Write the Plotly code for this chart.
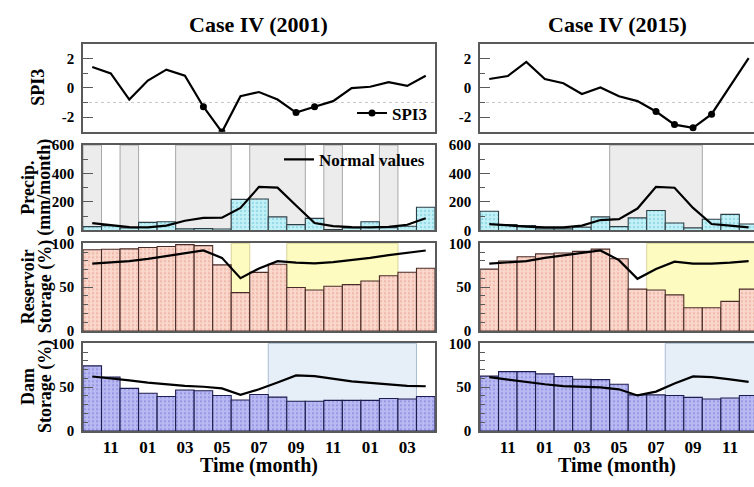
import plotly.graph_objects as go
from plotly.subplots import make_subplots

# ---------------------------------------------------------------- data
# Months (Oct -> Apr of the following year for 2001, Oct -> Dec for 2015)
months_2001 = ["10", "11", "12", "01", "02", "03", "04", "05", "06", "07",
               "08", "09", "10", "11", "12", "01", "02", "03", "04"]
months_2015 = ["10", "11", "12", "01", "02", "03", "04", "05", "06", "07",
               "08", "09", "10", "11", "12"]

spi_2001 = [1.42, 0.98, -0.80, 0.49, 1.24, 0.82, -1.29, -3.02, -0.58, -0.29,
            -0.80, -1.69, -1.29, -0.91, -0.02, 0.07, 0.38, 0.13, 0.82]
spi_2015 = [0.60, 0.80, 1.76, 0.60, 0.31, -0.42, 0.02, -0.58, -0.91, -1.62,
            -2.51, -2.73, -1.80, 0.10, 2.02]

precip_2001 = [27, 34, 18, 57, 61, 11, 13, 10, 218, 221,
               95, 41, 85, 7, 18, 61, 20, 29, 163]
precip_normal_2001 = [52, 39, 23, 22, 34, 68, 88, 90, 158, 306,
                      301, 175, 52, 30, 23, 22, 25, 40, 86]
precip_2015 = [135, 41, 34, 11, 11, 23, 95, 27, 88, 140, 52, 18, 79, 113, 45]
precip_normal_2015 = [45, 34, 27, 22, 22, 34, 73, 79, 154, 306, 300, 158, 45, 34, 22]

reservoir_2001 = [92.6, 93.3, 93.7, 95.2, 96.3, 98.5, 97.4, 75.4, 43.8, 66.9,
                  76.1, 49.6, 46.7, 51.1, 52.9, 57.0, 63.0, 67.0, 71.6]
reservoir_normal_2001 = [76.8, 77.9, 79.7, 82.3, 85.3, 88.2, 91.8, 83.4, 60.3, 71.3,
                         79.7, 77.9, 77.2, 78.6, 80.8, 83.4, 86.5, 89.0, 91.8]
reservoir_2015 = [70.6, 79.8, 84.6, 87.9, 89.0, 90.8, 93.4, 82.4, 47.8, 46.7,
                  41.2, 26.5, 26.5, 33.8, 47.8]
reservoir_normal_2015 = [76.8, 77.9, 79.7, 83.4, 86.0, 88.9, 91.8, 80.8, 59.5, 70.6,
                         79.0, 76.8, 76.8, 77.9, 79.7]

dam_2001 = [74.3, 61.4, 48.6, 43.0, 39.3, 46.7, 45.9, 40.4, 35.3, 41.5,
            38.6, 33.8, 33.8, 34.9, 34.9, 34.9, 37.0, 36.5, 39.3]
dam_normal_2001 = [62.1, 60.3, 57.7, 55.2, 53.0, 51.5, 50.4, 48.5, 41.2, 47.5,
                   55.2, 63.3, 62.5, 59.6, 56.6, 54.8, 53.0, 51.5, 51.0]
dam_2015 = [62.5, 67.7, 67.7, 65.1, 62.2, 58.9, 58.5, 53.3, 41.2, 41.2,
            40.5, 38.3, 36.4, 37.5, 40.5]
dam_normal_2015 = [61.4, 58.5, 55.9, 53.3, 51.1, 50.4, 49.7, 47.5, 40.5, 44.9,
                   54.1, 62.2, 61.4, 58.9, 55.9]

# Highlighted month spans (first index, last index)
dry_spans_2001 = [(0, 0), (2, 2), (5, 7), (9, 11), (13, 13), (16, 16)]
dry_spans_2015 = [(7, 11)]
res_spans_2001 = [(8, 8), (11, 16)]
res_spans_2015 = [(9, 14)]
dam_spans_2001 = [(10, 17)]
dam_spans_2015 = [(10, 14)]

SPI_THRESHOLD = -1.0

# ---------------------------------------------------------------- style
W, H = 754, 487
FONT = "Liberation Serif"
AXIS_COL = "#5a5a5a"

def px_x(p):
    return p / W

def px_y(p):
    return 1 - p / H

col_domains = [(px_x(83), px_x(435)), (px_x(480), 1.0)]
row_domains = [(px_y(128), px_y(37)), (px_y(230), px_y(141.7)),
               (px_y(334), px_y(243.3)), (px_y(437.3), px_y(346.7))]

PRECIP_STYLE = dict(fill="#c2f1f8", dots="#6cc3d6", edge="#2f3f46")
RES_STYLE = dict(fill="#fad8cc", dots="#e69c8a", edge="#4b2d28")
DAM_STYLE = dict(fill="#babaf3", dots="#7878d6", edge="#1d1d4f")

fig = make_subplots(rows=4, cols=2, horizontal_spacing=0.02, vertical_spacing=0.02)


def bar_trace(x, y, style):
    return go.Bar(
        x=x, y=y, width=1.0, showlegend=False, hoverinfo="skip",
        marker=dict(
            color=style["fill"],
            line=dict(color=style["edge"], width=1.1),
            pattern=dict(shape=".", fgcolor=style["dots"], bgcolor=style["fill"],
                         size=4, solidity=0.3),
        ),
    )


def normal_trace(x, y, show):
    return go.Scatter(x=x, y=y, mode="lines", line=dict(color="black", width=2.2),
                      name="Normal values", showlegend=show, legend="legend2",
                      hoverinfo="skip")


def add_spans(spans, row, col, fill, edge):
    for a, b in spans:
        fig.add_vrect(x0=a - 0.5, x1=b + 0.5, row=row, col=col, layer="below",
                      fillcolor=fill, opacity=1, line=dict(color=edge, width=1))


panels = [
    dict(col=1, months=months_2001, spi=spi_2001, precip=precip_2001,
         pnorm=precip_normal_2001, res=reservoir_2001, rnorm=reservoir_normal_2001,
         dam=dam_2001, dnorm=dam_normal_2001, dry=dry_spans_2001,
         rspan=res_spans_2001, dspan=dam_spans_2001, n_visible=19.0, first=True),
    dict(col=2, months=months_2015, spi=spi_2015, precip=precip_2015,
         pnorm=precip_normal_2015, res=reservoir_2015, rnorm=reservoir_normal_2015,
         dam=dam_2015, dnorm=dam_normal_2015, dry=dry_spans_2015,
         rspan=res_spans_2015, dspan=dam_spans_2015, n_visible=14.79, first=False),
]

for p in panels:
    c = p["col"]
    x = list(range(len(p["months"])))

    # SPI3 line, drought months (SPI < -1) marked with dots
    fig.add_trace(go.Scatter(x=x, y=p["spi"], mode="lines",
                             line=dict(color="black", width=2.2),
                             showlegend=False, hoverinfo="skip"), row=1, col=c)
    drought = [v if v < SPI_THRESHOLD else None for v in p["spi"]]
    fig.add_trace(go.Scatter(x=x, y=drought, mode="markers",
                             marker=dict(color="black", size=7),
                             showlegend=False, hoverinfo="skip"), row=1, col=c)
    if p["first"]:
        # legend entry: line with a drought dot
        fig.add_trace(go.Scatter(x=[None], y=[None], mode="lines+markers",
                                 line=dict(color="black", width=2),
                                 marker=dict(color="black", size=7),
                                 name="SPI3", legend="legend"), row=1, col=c)
    fig.add_hline(y=SPI_THRESHOLD, row=1, col=c, layer="below",
                  line=dict(color="#c8c8c8", width=1, dash="dot"))

    # precipitation
    fig.add_trace(bar_trace(x, p["precip"], PRECIP_STYLE), row=2, col=c)
    fig.add_trace(normal_trace(x, p["pnorm"], p["first"]), row=2, col=c)
    add_spans(p["dry"], 2, c, "#ececec", "#a8a8a8")

    # reservoir storage
    fig.add_trace(bar_trace(x, p["res"], RES_STYLE), row=3, col=c)
    fig.add_trace(normal_trace(x, p["rnorm"], False), row=3, col=c)
    add_spans(p["rspan"], 3, c, "#fdfbc0", "#d9d49a")

    # dam storage
    fig.add_trace(bar_trace(x, p["dam"], DAM_STYLE), row=4, col=c)
    fig.add_trace(normal_trace(x, p["dnorm"], False), row=4, col=c)
    add_spans(p["dspan"], 4, c, "#e6eef8", "#a9bdd2")

    xr = [-0.5, -0.5 + p["n_visible"]]
    tickvals = x[1::2]
    ticktext = p["months"][1::2]
    for r in range(1, 5):
        fig.update_xaxes(row=r, col=c, range=xr, domain=col_domains[c - 1],
                         showgrid=False, zeroline=False, showline=True,
                         linecolor=AXIS_COL, linewidth=1.5, mirror=True,
                         ticks="", ticklen=0, ticklabelstandoff=0,
                         showticklabels=(r == 4),
                         tickvals=tickvals, ticktext=ticktext,
                         tickfont=dict(family=FONT, size=17, color="black", weight="bold"))

    yspecs = [
        dict(range=[-3, 3], tickvals=[-2, 0, 2], minor=1),
        dict(range=[0, 600], tickvals=[0, 200, 400, 600], minor=100),
        dict(range=[0, 100], tickvals=[0, 50, 100], minor=10),
        dict(range=[0, 100], tickvals=[0, 50, 100], minor=10),
    ]
    for r, s in enumerate(yspecs, start=1):
        fig.update_yaxes(row=r, col=c, range=s["range"], domain=row_domains[r - 1],
                         showgrid=False, zeroline=False, showline=True,
                         linecolor=AXIS_COL, linewidth=1.5, mirror=(c == 1),
                         ticks="inside", ticklen=10, tickwidth=1.2, tickcolor=AXIS_COL,
                         tickvals=s["tickvals"],
                         ticktext=[str(v) for v in s["tickvals"]],
                         ticklabelstandoff=4,
                         minor=dict(dtick=s["minor"], tick0=0, ticks="inside", ticklen=5,
                                    tickwidth=1, tickcolor=AXIS_COL),
                         tickfont=dict(family=FONT, size=15, color="black", weight="bold"))

# ---------------------------------------------------------------- text
title_font = dict(family=FONT, size=22, color="black", weight="bold")
label_font = dict(family=FONT, size=18, color="black", weight="bold")

annotations = [
    dict(text="Case IV (2001)", x=sum(col_domains[0]) / 2, y=px_y(17), font=title_font),
    dict(text="Case IV (2015)", x=sum(col_domains[1]) / 2, y=px_y(17), font=title_font),
    dict(text="Time (month)", x=sum(col_domains[0]) / 2, y=px_y(473), font=dict(label_font, size=20)),
    dict(text="Time (month)", x=sum(col_domains[1]) / 2, y=px_y(473), font=dict(label_font, size=20)),
]
ylabels = [
    (0, ["SPI3"]),
    (1, ["Precip.", "(mm/month)"]),
    (2, ["Reservoir", "Storage (%)"]),
    (3, ["Dam", "Storage (%)"]),
]
for r, lines in ylabels:
    yc = sum(row_domains[r]) / 2
    xs = [38] if len(lines) == 1 else [28, 45]
    for xpos, txt in zip(xs, lines):
        annotations.append(dict(text=txt, x=px_x(xpos), y=yc, textangle=-90, font=label_font))

for a in annotations:
    fig.add_annotation(xref="paper", yref="paper", showarrow=False,
                       xanchor="center", yanchor="middle", **a)

legend_font = dict(family=FONT, size=17, color="black", weight="bold")
fig.update_layout(
    width=W, height=H,
    margin=dict(l=0, r=0, t=0, b=0),
    paper_bgcolor="white", plot_bgcolor="white",
    barmode="overlay",
    legend=dict(x=px_x(352), y=px_y(109), xanchor="left", yanchor="middle",
                bgcolor="rgba(0,0,0,0)", font=legend_font,
                itemwidth=30, borderwidth=0),
    legend2=dict(x=px_x(279), y=px_y(157), xanchor="left", yanchor="middle",
                 bgcolor="rgba(0,0,0,0)", font=legend_font, itemwidth=30, borderwidth=0),
)

fig.write_html("out.html")
